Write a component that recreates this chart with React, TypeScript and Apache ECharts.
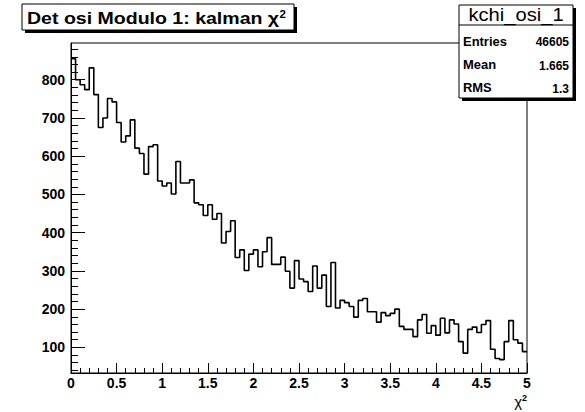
import React, { useEffect, useRef } from "react";
import * as echarts from "echarts";

// kalman chi-square histogram: 100 bins of width 0.05 on [0, 5]
const X_MIN = 0;
const X_MAX = 5;
const BIN_WIDTH = 0.05;
const Y_MIN = 33;
const Y_MAX = 896;

const binCounts = [
  855, 800, 787, 774, 831, 761, 675, 700, 751, 742,
  688, 637, 653, 695, 621, 607, 553, 625, 630, 535,
  522, 530, 501, 586, 530, 530, 538, 478, 473, 445,
  473, 435, 450, 373, 403, 431, 335, 355, 301, 344,
  355, 311, 350, 387, 317, 317, 336, 299, 255, 327,
  279, 272, 246, 313, 255, 289, 207, 322, 203, 223,
  217, 207, 179, 223, 228, 193, 193, 166, 191, 183,
  189, 200, 155, 147, 147, 128, 172, 186, 137, 157,
  132, 176, 138, 172, 161, 115, 85, 147, 153, 139,
  160, 170, 95, 71, 68, 115, 170, 120, 111, 89,
];

const yMajorTicks = [100, 200, 300, 400, 500, 600, 700, 800];
const yMinorTicks = [
  40, 60, 80, 120, 140, 160, 180, 220, 240, 260, 280, 320, 340, 360, 380,
  420, 440, 460, 480, 520, 540, 560, 580, 620, 640, 660, 680, 720, 740, 760,
  780, 820, 840, 860, 880,
];

const histTitle = "Det osi Modulo 1: kalman χ";
const statsName = "kchi_osi_1";
const statsRows: [string, string][] = [
  ["Entries", "46605"],
  ["Mean", "1.665"],
  ["RMS", "1.3"],
];

const FONT = "Liberation Sans, Arial, Helvetica, sans-serif";

export default function App() {
  const ref = useRef<HTMLDivElement>(null);

  useEffect(() => {
    if (!ref.current) return;
    const chart = echarts.init(ref.current, null, { renderer: "svg" });

    // step outline: each point is a bin's left edge, closed at the upper edge
    const outline: [number, number][] = binCounts.map((c, i) => [
      X_MIN + i * BIN_WIDTH,
      c,
    ]);
    outline.push([X_MAX, binCounts[binCounts.length - 1]]);

    const rowY = [42, 65.5, 88.5];

    chart.setOption({
      animation: false,
      backgroundColor: "#fff",
      grid: {
        left: 71,
        top: 43,
        width: 456,
        height: 330,
        show: true,
        borderColor: "#000",
        borderWidth: 1,
        backgroundColor: "transparent",
      },
      xAxis: {
        type: "value",
        min: X_MIN,
        max: X_MAX,
        interval: 0.5,
        axisLine: { show: true, lineStyle: { color: "#000", width: 1 } },
        axisTick: {
          show: true,
          inside: true,
          length: 10,
          lineStyle: { color: "#000", width: 1 },
        },
        minorTick: {
          show: true,
          splitNumber: 5,
          length: 5,
          lineStyle: { color: "#000", width: 1 },
        },
        axisLabel: {
          margin: 3,
          fontSize: 14,
          fontWeight: "bold",
          fontFamily: FONT,
          color: "#000",
          showMinLabel: true,
          showMaxLabel: true,
          formatter: (v: number) => String(Math.round(v * 10) / 10),
        },
        splitLine: { show: false },
        minorSplitLine: { show: false },
      },
      yAxis: [
        {
          type: "value",
          position: "left",
          min: Y_MIN,
          max: Y_MAX,
          axisLine: { show: true, lineStyle: { color: "#000", width: 1 } },
          axisTick: {
            show: true,
            inside: true,
            length: 14,
            customValues: yMajorTicks,
            lineStyle: { color: "#000", width: 1 },
          },
          axisLabel: {
            customValues: yMajorTicks,
            margin: 6,
            fontSize: 14,
            fontWeight: "bold",
            fontFamily: FONT,
            color: "#000",
          },
          splitLine: { show: false },
        },
        {
          type: "value",
          position: "left",
          offset: 0,
          min: Y_MIN,
          max: Y_MAX,
          axisLine: { show: false },
          axisTick: {
            show: true,
            inside: true,
            length: 7,
            customValues: yMinorTicks,
            lineStyle: { color: "#000", width: 1 },
          },
          axisLabel: { show: false },
          splitLine: { show: false },
        },
      ],
      series: [
        {
          type: "line",
          step: "end",
          xAxisIndex: 0,
          yAxisIndex: 0,
          data: outline,
          symbol: "none",
          lineStyle: { color: "#000", width: 1.6 },
          z: 3,
        },
      ],
      graphic: [
        // title box with drop shadow
        {
          type: "rect",
          z: 100,
          shape: { x: 25, y: 7, width: 272, height: 26 },
          style: { fill: "#000" },
        },
        {
          type: "rect",
          z: 101,
          shape: { x: 22, y: 4, width: 272, height: 26 },
          style: { fill: "#fff", stroke: "#000", lineWidth: 1 },
        },
        {
          type: "text",
          z: 102,
          x: 27,
          y: 18,
          scaleX: 1.15,
          style: {
            text: `{m|${histTitle}}{s|2}`,
            textAlign: "left",
            textVerticalAlign: "middle",
            rich: {
              m: { fontSize: 17, fontWeight: "bold", fontFamily: FONT, fill: "#000" },
              s: {
                fontSize: 10,
                fontWeight: "bold",
                fontFamily: FONT,
                fill: "#000",
                verticalAlign: "top",
              },
            },
          },
        },
        // statistics box with drop shadow
        {
          type: "rect",
          z: 100,
          shape: { x: 462, y: 8, width: 114, height: 93 },
          style: { fill: "#000" },
        },
        {
          type: "rect",
          z: 101,
          shape: { x: 459, y: 5, width: 114, height: 93 },
          style: { fill: "#fff", stroke: "#000", lineWidth: 1 },
        },
        {
          type: "line",
          z: 102,
          shape: { x1: 459, y1: 25, x2: 573, y2: 25 },
          style: { stroke: "#000", lineWidth: 1 },
        },
        {
          type: "text",
          z: 102,
          x: 516,
          y: 15,
          scaleX: 1.12,
          style: {
            text: statsName,
            fontSize: 18,
            fontFamily: FONT,
            fill: "#000",
            textAlign: "center",
            textVerticalAlign: "middle",
          },
        },
        ...statsRows.flatMap(([label, value], i) => [
          {
            type: "text",
            z: 102,
            x: 463,
            y: rowY[i],
            scaleX: 1.08,
            style: {
              text: label,
              fontSize: 12,
              fontWeight: "bold",
              fontFamily: FONT,
              fill: "#000",
              textAlign: "left",
              textVerticalAlign: "middle",
            },
          },
          {
            type: "text",
            z: 102,
            x: 569,
            y: rowY[i],
            scaleX: 1.0,
            style: {
              text: value,
              fontSize: 12,
              fontWeight: "bold",
              fontFamily: FONT,
              fill: "#000",
              textAlign: "right",
              textVerticalAlign: "middle",
            },
          },
        ]),
        // x axis title
        {
          type: "text",
          z: 102,
          x: 527,
          y: 401,
          style: {
            text: "{m|χ}{s|2}",
            textAlign: "right",
            textVerticalAlign: "middle",
            rich: {
              m: { fontSize: 15, fontFamily: FONT, fill: "#000" },
              s: {
                fontSize: 9,
                fontWeight: "bold",
                fontFamily: FONT,
                fill: "#000",
                verticalAlign: "top",
              },
            },
          },
        },
      ],
    });

    return () => chart.dispose();
  }, []);

  return (
    <div
      ref={ref}
      style={{ position: "fixed", left: 0, top: 0, width: 585, height: 412 }}
    />
  );
}
